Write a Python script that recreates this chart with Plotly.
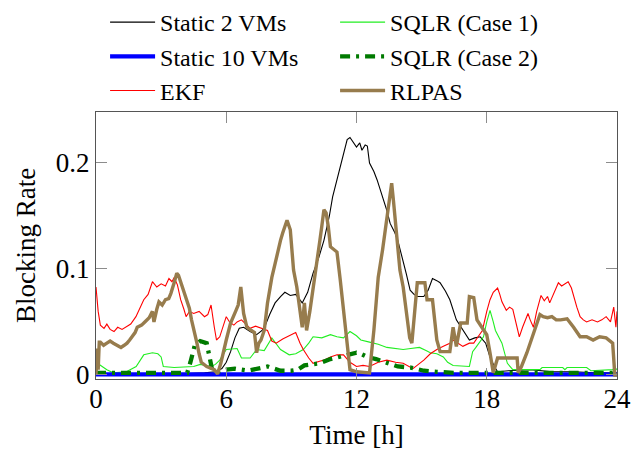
import plotly.graph_objects as go

# ---------------- data: [time (h), blocking rate] ----------------
static2_vms = [
    [0, 0.001], [2, 0.001], [4, 0.001], [5.0, 0.002], [5.5, 0.003], [5.8, 0.006], [6.0, 0.012],
    [6.2, 0.022], [6.4, 0.035], [6.6, 0.044], [6.8, 0.045], [7.1, 0.041], [7.4, 0.038],
    [7.65, 0.042], [7.8, 0.047], [8.0, 0.057], [8.25, 0.068], [8.5, 0.074], [8.7, 0.078],
    [8.95, 0.075], [9.2, 0.076], [9.5, 0.068], [9.75, 0.078], [10.0, 0.096], [10.25, 0.11],
    [10.5, 0.127], [10.75, 0.15], [10.9, 0.168], [11.1, 0.185], [11.25, 0.196], [11.4, 0.208],
    [11.57, 0.222], [11.7, 0.224], [11.85, 0.22], [12.0, 0.215], [12.15, 0.219], [12.25, 0.212],
    [12.4, 0.217], [12.5, 0.216], [12.6, 0.2], [12.8, 0.192], [12.95, 0.184], [13.2, 0.168],
    [13.4, 0.155], [13.55, 0.143], [13.75, 0.135], [13.9, 0.127], [14.15, 0.108], [14.3, 0.095],
    [14.47, 0.08], [14.65, 0.076], [14.8, 0.074], [15.1, 0.074], [15.3, 0.08], [15.5, 0.091],
    [15.7, 0.089], [15.85, 0.087], [16.1, 0.079], [16.3, 0.071], [16.6, 0.052], [16.9, 0.042],
    [17.2, 0.033], [17.45, 0.035], [17.7, 0.036], [17.95, 0.03], [18.15, 0.017], [18.35, 0.008],
    [18.5, 0.003], [19, 0.004], [20, 0.005], [21, 0.003], [22, 0.003], [23, 0.002], [24, 0.002],
]

static10_vms = [[0, 0.0005], [6, 0.0005], [12, 0.0005], [18, 0.0005], [24, 0.0005]]

ekf = [
    [0, 0.083], [0.1, 0.06], [0.2, 0.047], [0.37, 0.044], [0.5, 0.048], [0.65, 0.043],
    [0.83, 0.041], [1.0, 0.045], [1.2, 0.043], [1.43, 0.046], [1.6, 0.048], [1.84, 0.055],
    [2.0, 0.062], [2.2, 0.071], [2.4, 0.076], [2.6, 0.088], [2.8, 0.083], [3.0, 0.086],
    [3.2, 0.084], [3.36, 0.091], [3.5, 0.088], [3.6, 0.092], [3.75, 0.085], [3.9, 0.071],
    [4.05, 0.062], [4.15, 0.055], [4.3, 0.06], [4.5, 0.058], [4.75, 0.06], [5.0, 0.055],
    [5.15, 0.057], [5.3, 0.066], [5.45, 0.045], [5.55, 0.033], [5.7, 0.036], [5.8, 0.042],
    [6.0, 0.055], [6.15, 0.05], [6.35, 0.047], [6.5, 0.05], [6.7, 0.052], [6.9, 0.048],
    [7.1, 0.044], [7.35, 0.046], [7.6, 0.044], [7.9, 0.042], [8.1, 0.032], [8.3, 0.03],
    [8.6, 0.034], [8.9, 0.037], [9.2, 0.04], [9.4, 0.03], [9.55, 0.024], [9.8, 0.016],
    [10.0, 0.011], [10.3, 0.013], [10.5, 0.014], [10.8, 0.017], [11.1, 0.019], [11.4, 0.019],
    [11.7, 0.012], [12.0, 0.008], [12.3, 0.009], [12.6, 0.008], [13.0, 0.012], [13.4, 0.014],
    [13.8, 0.012], [14.15, 0.011], [14.4, 0.008], [14.6, 0.006], [14.85, 0.01], [15.1, 0.014],
    [15.4, 0.02], [15.7, 0.024], [16.0, 0.027], [16.3, 0.03], [16.45, 0.033], [16.7, 0.03],
    [16.9, 0.027], [17.2, 0.03], [17.4, 0.03], [17.6, 0.036], [17.8, 0.042], [18.0, 0.06],
    [18.15, 0.071], [18.3, 0.078], [18.5, 0.082], [18.6, 0.076], [18.7, 0.069], [18.9, 0.061],
    [19.05, 0.064], [19.2, 0.062], [19.4, 0.045], [19.5, 0.036], [19.65, 0.045], [19.9, 0.058],
    [20.0, 0.052], [20.15, 0.045], [20.3, 0.06], [20.5, 0.075], [20.65, 0.07], [20.8, 0.074],
    [20.9, 0.068], [21.1, 0.078], [21.3, 0.087], [21.45, 0.084], [21.6, 0.086], [21.75, 0.088],
    [21.9, 0.082], [22.0, 0.074], [22.15, 0.064], [22.3, 0.055], [22.45, 0.052], [22.6, 0.05],
    [22.85, 0.052], [23.1, 0.05], [23.3, 0.052], [23.5, 0.055], [23.7, 0.05], [23.85, 0.064],
    [23.95, 0.045], [24, 0.06],
]

sqlr_case1 = [
    [0, 0.012], [0.2, 0.009], [0.5, 0.005], [0.8, 0.002], [1.4, 0.003], [1.85, 0.008],
    [2.05, 0.014], [2.2, 0.019], [2.6, 0.021], [2.85, 0.02], [3.0, 0.017], [3.1, 0.008],
    [3.6, 0.007], [4.2, 0.008], [4.5, 0.008], [4.8, 0.01], [5.3, 0.008], [5.5, 0.01],
    [5.7, 0.014], [6.0, 0.024], [6.5, 0.025], [6.7, 0.016], [7.1, 0.016], [7.4, 0.024],
    [7.75, 0.023], [8.1, 0.035], [8.3, 0.03], [8.5, 0.024], [8.9, 0.019], [9.2, 0.02],
    [9.55, 0.024], [9.8, 0.03], [10.0, 0.036], [10.4, 0.035], [10.8, 0.038], [11.1, 0.036],
    [11.4, 0.035], [11.7, 0.041], [12.0, 0.037], [12.2, 0.033], [12.6, 0.031], [13.0, 0.029],
    [13.4, 0.026], [13.8, 0.025], [14.15, 0.024], [14.5, 0.025], [14.9, 0.026], [15.2, 0.023],
    [15.4, 0.021], [15.7, 0.02], [16.0, 0.017], [16.2, 0.012], [16.45, 0.009], [17.2, 0.008],
    [17.35, 0.022], [17.5, 0.026], [17.85, 0.036], [18.0, 0.05], [18.15, 0.061], [18.3, 0.05],
    [18.4, 0.042], [18.7, 0.03], [18.95, 0.011], [19.2, 0.005], [20.45, 0.005], [20.55, 0.007],
    [21.5, 0.007], [21.6, 0.005], [21.7, 0.007], [22.6, 0.007], [22.8, 0.004], [23.8, 0.005],
    [23.9, 0.007], [24, 0.005],
]

sqlr_case2 = [
    [0, 0.002], [2, 0.002], [4.2, 0.002], [4.35, 0.012], [4.55, 0.028], [4.8, 0.032],
    [5.1, 0.03], [5.35, 0.005], [5.6, 0.003], [6.0, 0.005], [6.4, 0.006], [7.0, 0.004],
    [7.5, 0.006], [7.9, 0.008], [8.2, 0.006], [8.5, 0.004], [9.0, 0.004], [9.3, 0.005],
    [9.6, 0.009], [9.9, 0.01], [10.3, 0.011], [10.8, 0.015], [11.2, 0.017], [11.6, 0.018],
    [12.0, 0.021], [12.2, 0.02], [12.5, 0.017], [12.9, 0.015], [13.3, 0.012], [13.9, 0.008],
    [14.5, 0.007], [15.1, 0.004], [15.7, 0.003], [16.5, 0.002], [18, 0.002], [20, 0.002],
    [22, 0.002], [24, 0.002],
]

rlpas = [
    [0, 0.0], [0.05, 0.025], [0.1, 0.005], [0.15, 0.031], [0.2, 0.031], [0.35, 0.028],
    [0.5, 0.03], [0.65, 0.032], [0.8, 0.03], [1.0, 0.028], [1.15, 0.026], [1.3, 0.028],
    [1.43, 0.03], [1.55, 0.033], [1.66, 0.036], [1.8, 0.04], [1.9, 0.045], [2.1, 0.047],
    [2.25, 0.05], [2.45, 0.054], [2.6, 0.06], [2.67, 0.05], [2.8, 0.062], [2.9, 0.069],
    [3.05, 0.066], [3.2, 0.071], [3.35, 0.072], [3.45, 0.077], [3.6, 0.087], [3.72, 0.096],
    [3.8, 0.094], [3.9, 0.088], [4.0, 0.082], [4.15, 0.074], [4.3, 0.063], [4.4, 0.052],
    [4.55, 0.04], [4.65, 0.03], [4.75, 0.02], [4.85, 0.012], [5.1, 0.008], [5.45, 0.005],
    [5.6, 0.001], [5.75, 0.011], [6.0, 0.033], [6.2, 0.049], [6.45, 0.061], [6.55, 0.066],
    [6.67, 0.083], [6.8, 0.058], [6.95, 0.045], [7.1, 0.043], [7.3, 0.04], [7.4, 0.021],
    [7.5, 0.03], [7.6, 0.033], [7.75, 0.042], [7.9, 0.068], [8.1, 0.092], [8.25, 0.105],
    [8.4, 0.12], [8.5, 0.127], [8.6, 0.134], [8.7, 0.14], [8.8, 0.146], [8.95, 0.137],
    [9.1, 0.099], [9.25, 0.083], [9.4, 0.06], [9.5, 0.045], [9.6, 0.068], [9.7, 0.042],
    [9.85, 0.06], [10.0, 0.08], [10.15, 0.1], [10.3, 0.125], [10.4, 0.14], [10.5, 0.156],
    [10.6, 0.153], [10.7, 0.14], [10.8, 0.121], [11.1, 0.116], [11.25, 0.09], [11.4, 0.06],
    [11.5, 0.042], [11.6, 0.02], [11.7, 0.005], [12.0, 0.003], [12.6, 0.002], [12.8, 0.042],
    [13.0, 0.092], [13.2, 0.118], [13.35, 0.14], [13.45, 0.156], [13.55, 0.175], [13.62, 0.181],
    [13.7, 0.165], [13.8, 0.14], [14.0, 0.099], [14.15, 0.083], [14.3, 0.061], [14.45, 0.035],
    [14.55, 0.03], [14.8, 0.087], [15.15, 0.087], [15.25, 0.071], [15.5, 0.071], [15.7, 0.033],
    [15.85, 0.022], [16.3, 0.022], [16.45, 0.045], [16.6, 0.027], [16.8, 0.049], [17.1, 0.049],
    [17.2, 0.074], [17.4, 0.073], [17.55, 0.052], [17.85, 0.042], [18.0, 0.038], [18.15, 0.021],
    [18.3, 0.002], [18.5, 0.016], [19.4, 0.016], [19.45, 0.002], [19.6, 0.008], [19.85, 0.021],
    [20.15, 0.04], [20.45, 0.057], [20.6, 0.055], [20.8, 0.054], [21.0, 0.055], [21.2, 0.052],
    [21.4, 0.052], [21.7, 0.053], [22.0, 0.045], [22.3, 0.036], [22.6, 0.036], [22.9, 0.033],
    [23.2, 0.036], [23.5, 0.035], [23.8, 0.03], [23.9, 0.0], [24, 0.0],
]

x_ticks = [0, 6, 12, 18, 24]
y_ticks = [0, 0.1, 0.2]
y_tick_labels = ["0", "0.1", "0.2"]

FONT = "'Liberation Serif', 'DejaVu Serif', 'Times New Roman', serif"
FS = 27

# (name, data, color, width, dash, legend rank)
series = [
    ("Static 2 VMs", static2_vms, "#000000", 1.1, "solid", 1),
    ("SQLR (Case 1)", sqlr_case1, "#22ee22", 1.1, "solid", 2),
    ("EKF", ekf, "#ff0000", 1.1, "solid", 5),
    ("Static 10 VMs", static10_vms, "#0000ff", 4.3, "solid", 3),
    ("SQLR (Case 2)", sqlr_case2, "#007a00", 4.3, "10px,6px,3px,6px", 4),
    ("RLPAS", rlpas, "#977c4d", 3.4, "solid", 6),
]

fig = go.Figure()
for name, data, color, width, dash, rank in series:
    fig.add_trace(go.Scatter(
        x=[p[0] for p in data], y=[p[1] for p in data], mode="lines", name=name,
        line=dict(color=color, width=width, dash=dash),
        legendrank=rank,
    ))

axis_common = dict(
    showline=True, linecolor="#555555", linewidth=1.3, mirror="allticks",
    ticks="inside", ticklen=11, tickwidth=1.2, tickcolor="#8c8c8c",
    showgrid=False, zeroline=False,
    tickfont=dict(family=FONT, size=FS, color="black"),
)

fig.update_layout(
    width=633, height=452,
    margin=dict(l=96, r=16, t=112, b=73, autoexpand=False),
    paper_bgcolor="white", plot_bgcolor="white",
    font=dict(family=FONT, size=FS, color="black"),
    showlegend=True,
    legend=dict(
        orientation="h", xref="container", yref="container",
        x=0.166, y=1.0, xanchor="left", yanchor="top",
        entrywidth=170, entrywidthmode="pixels",
        font=dict(family=FONT, size=24, color="black"),
        bgcolor="rgba(0,0,0,0)", tracegroupgap=0, itemwidth=45,
    ),
    xaxis=dict(
        range=[0, 24], tickvals=x_ticks, ticktext=[str(v) for v in x_ticks],
        ticklabelstandoff=-5,
        title=dict(text="Time [h]", font=dict(family=FONT, size=FS), standoff=12),
        **axis_common,
    ),
    yaxis=dict(
        range=[-0.0038, 0.2481], tickvals=y_ticks, ticktext=y_tick_labels,
        title=dict(text="Blocking Rate", font=dict(family=FONT, size=FS), standoff=12),
        **axis_common,
    ),
)

fig.write_html("out.html")
